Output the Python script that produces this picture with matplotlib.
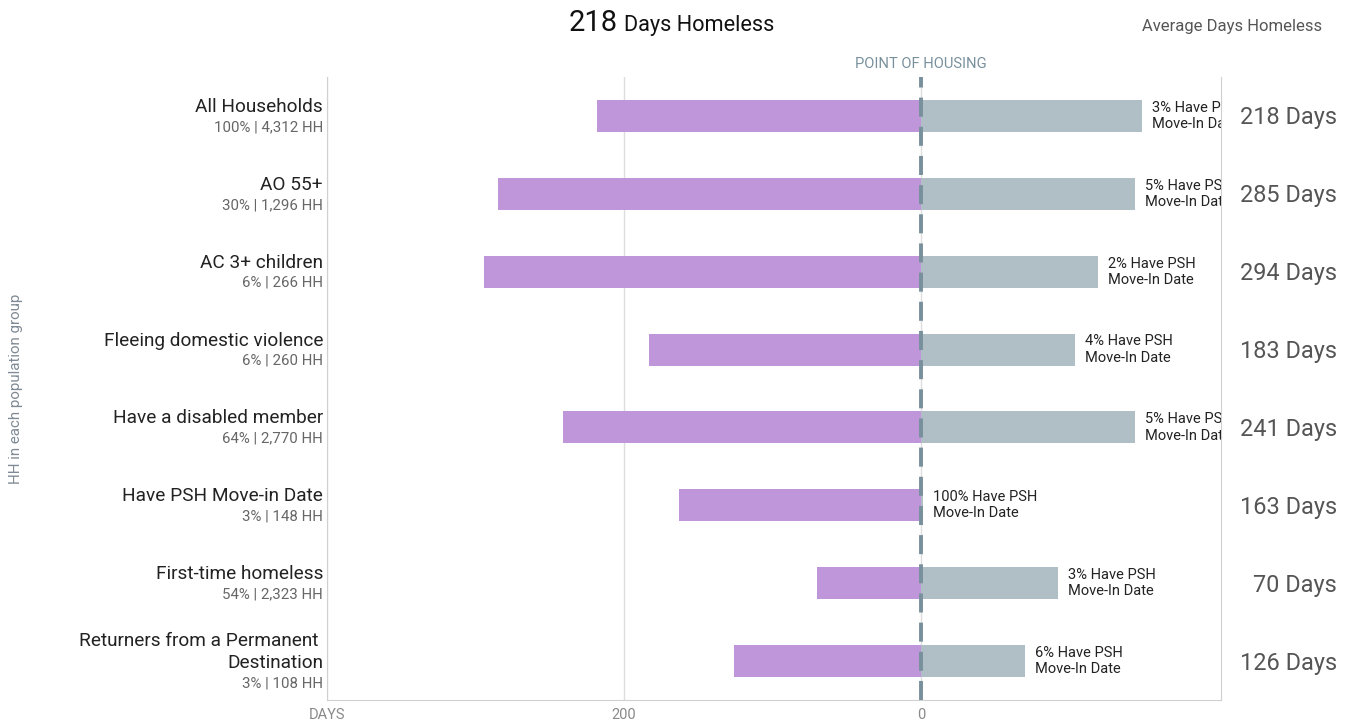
import matplotlib
matplotlib.use("Agg")
import matplotlib.pyplot as plt

plt.rcParams["font.family"] = ["Roboto", "DejaVu Sans"]

groups = [
    "All Households",
    "AO 55+",
    "AC 3+ children",
    "Fleeing domestic violence",
    "Have a disabled member",
    "Have PSH Move-in Date",
    "First-time homeless",
    "Returners from a Permanent \nDestination",
]
shares = [
    "100% | 4,312 HH",
    "30% | 1,296 HH",
    "6% | 266 HH",
    "6% | 260 HH",
    "64% | 2,770 HH",
    "3% | 148 HH",
    "54% | 2,323 HH",
    "3% | 108 HH",
]
days_homeless = [218, 285, 294, 183, 241, 163, 70, 126]
days_after = [149, 144, 119, 104, 144, 1, 92, 70]
psh_pct = [3, 5, 2, 4, 5, 100, 3, 6]

PURPLE = "#bf96da"
GREY = "#b0bec5"
SLATE = "#78909c"

W, H = 1353, 724
fig = plt.figure(figsize=(W / 100, H / 100), dpi=100)
ax = fig.add_axes([327 / W, 1 - 700 / H, (1221 - 327) / W, (700 - 77) / H])

ypos = list(range(len(groups)))
ax.barh(ypos, [-d for d in days_homeless], height=0.41, color=PURPLE, zorder=2)
ax.barh(ypos, days_after, height=0.41, color=GREY, zorder=2)

ax.set_xlim(-400, 202)
ax.set_ylim(len(groups) - 0.5, -0.5)

ax.set_xticks([-400, -200, 0])
ax.set_xticklabels(["DAYS", "200", "0"])
ax.tick_params(axis="x", length=0, pad=6, labelsize=10.5, labelcolor="#8a8a8a")
ax.set_yticks([])
ax.grid(axis="x", color="#dddddd", lw=1, zorder=0)
for side in ("left", "bottom", "right"):
    ax.spines[side].set_color("#d0d0d0")
ax.spines["top"].set_visible(False)

# point of housing
ax.axvline(0, color=SLATE, lw=2.8, linestyle=(0, (4.9, 2.6)), zorder=4)
ax.annotate("POINT OF HOUSING", xy=(0, 1), xycoords=("data", "axes fraction"),
            xytext=(0, 13), textcoords="offset pixels", ha="center", va="center",
            fontsize=10.6, color=SLATE)

for i, name in enumerate(groups):
    nlines = name.count("\n") + 1
    ax.annotate(name, xy=(0, i), xycoords=("axes fraction", "data"),
                xytext=(-4, 9), textcoords="offset pixels",
                ha="right", va="center", fontsize=13.7, color="#222222",
                linespacing=1.3)
    ax.annotate(shares[i], xy=(0, i), xycoords=("axes fraction", "data"),
                xytext=(-4, -11 - 11 * (nlines - 1)), textcoords="offset pixels",
                ha="right", va="center", fontsize=10.8, color="#666666")
    ax.annotate(f"{days_homeless[i]} Days", xy=(1, i),
                xycoords=("axes fraction", "data"),
                xytext=(116, -2), textcoords="offset pixels",
                ha="right", va="center", fontsize=16.9, color="#555555")
    note = ax.annotate(f"{psh_pct[i]}% Have PSH\nMove-In Date", xy=(days_after[i], i),
                       xytext=(10, 0), textcoords="offset pixels",
                       ha="left", va="center", fontsize=10.5, color="#222222",
                       linespacing=1.2)
    note.set_clip_path(ax.patch)

fig.text(16 / W, 1 - 389 / H, "HH in each population group", rotation=90,
         ha="center", va="center", fontsize=10.9, color="#7f8a94")

fig.text(618 / W, 1 - 31 / H, "218", ha="right", va="baseline",
         fontsize=21, color="#111111")
fig.text(624 / W, 1 - 31 / H, "Days Homeless", ha="left", va="baseline",
         fontsize=15.7, color="#111111")
fig.text(1322 / W, 1 - 26 / H, "Average Days Homeless", ha="right", va="center",
         fontsize=12, color="#555555")

fig.savefig("out.png", dpi=100)
